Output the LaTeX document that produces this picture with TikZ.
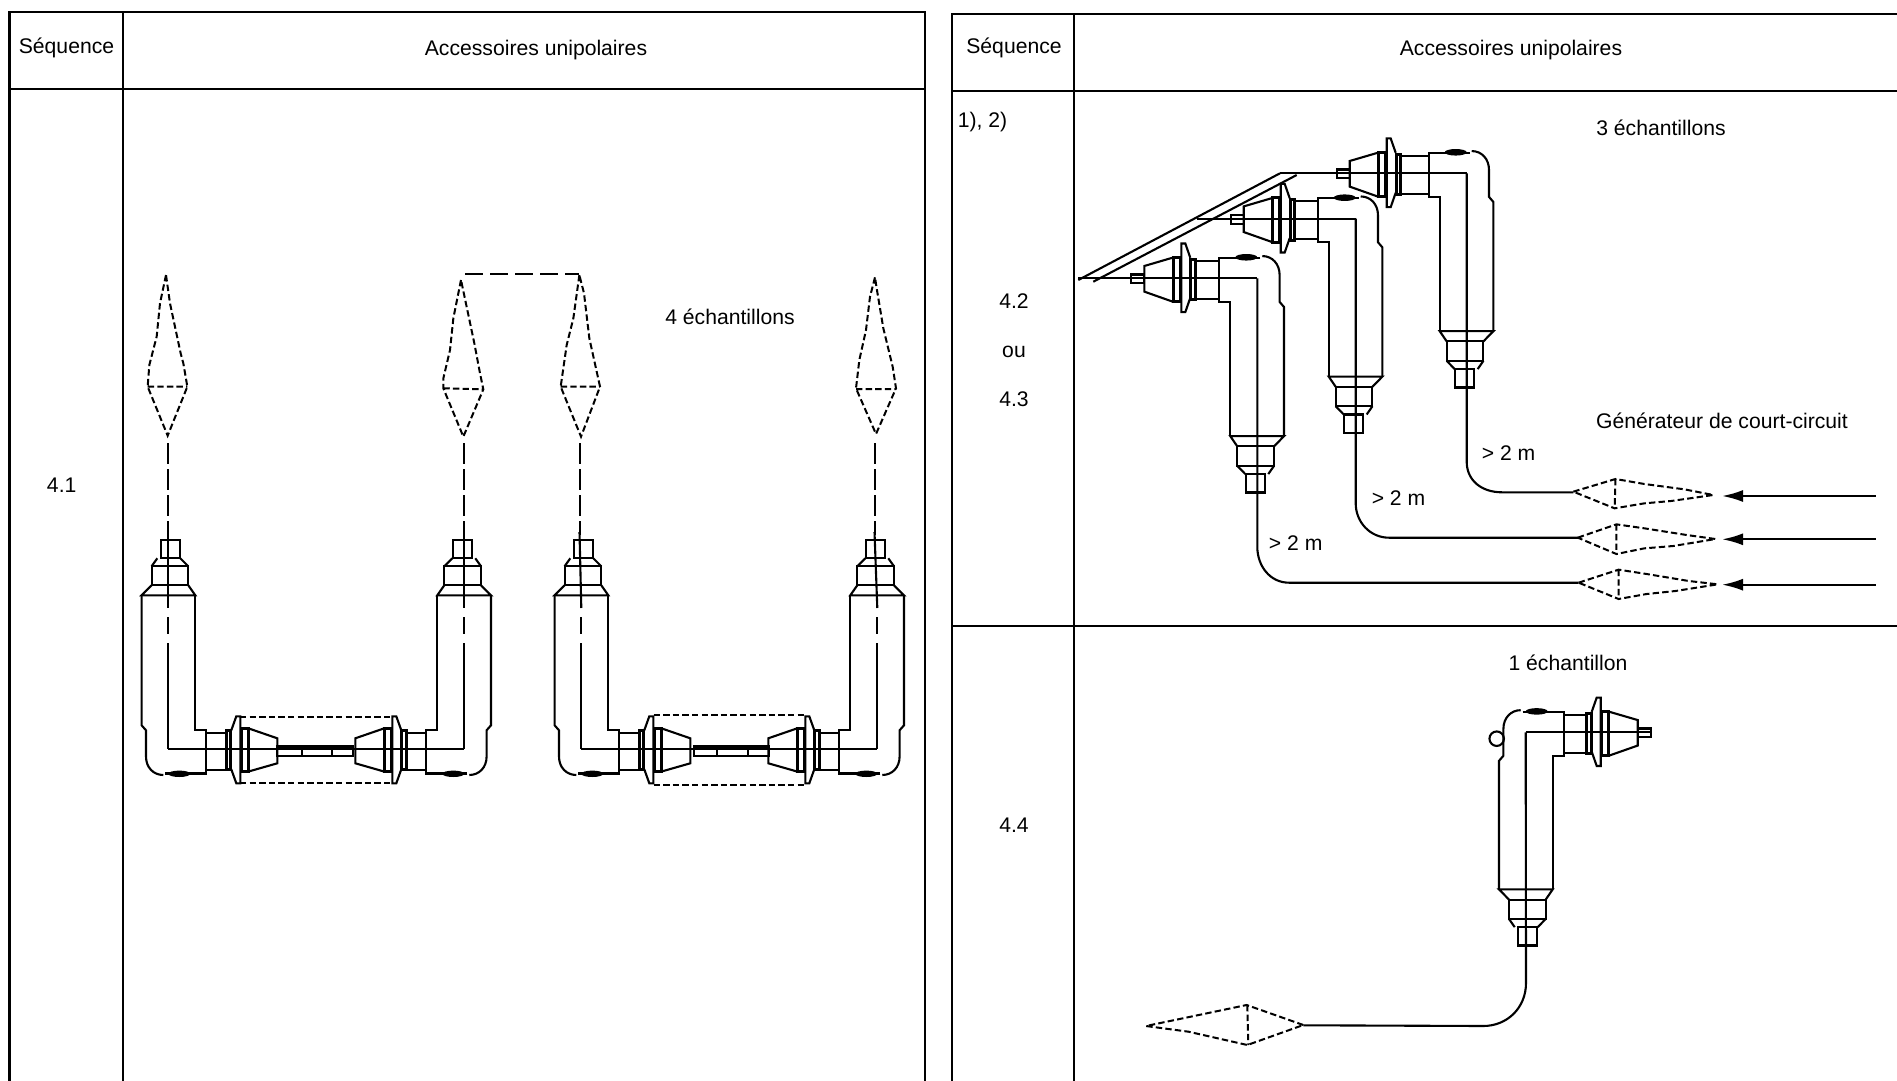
\documentclass[tikz,border=0pt]{standalone}
\usepackage{fontspec}
\setmainfont{Liberation Sans}
\usetikzlibrary{arrows.meta}
\tikzset{
  frameline/.style={line width=1.1pt,black},
  part/.style={line width=1.05pt,black,line join=miter},
  heavy/.style={line width=1.4pt,black},
  wire/.style={line width=1.05pt,black},
  shortdash/.style={line width=1pt,black,dash pattern=on 3.2pt off 1.6pt},
  longdash/.style={line width=1pt,black,dash pattern=on 10.5pt off 2.5pt},
  topdash/.style={line width=1.2pt,black,dash pattern=on 9pt off 3.5pt},
  lab/.style={inner sep=0pt,font=\fontsize{10.58pt}{12pt}\selectfont},
  feed/.style={line width=1.1pt,black,-{Latex[length=10.5pt,width=6pt]}}
}
% x, y, xscale, yscale, extension of the neck, length of the axis, stub (0/1), shift of the neck
\newcommand\elbow[8]{%
\begin{scope}[shift={(#1,#2)},xscale=#3,yscale=#4]
  \draw[part] (-7.7,-209) rectangle (11.7,-191);
  \draw[part] (-16.7,-183) -- (-11,-191) (20,-183) -- (12,-191);
  \draw[part] (-16.7,-183) rectangle (20,-164);
  \draw[part] (-16.7,-164) -- (-26.7,-154) -- (27,-154) -- (20,-164);
  \draw[part] (-26.7,-154) -- (-26.7,-24+#8) -- (-22.3,-19+#8) -- (-22.3,7.3+#8)
     .. controls (-22.3,18+#8) and (-15,25.7+#8) .. (-5,25.7+#8);
  \draw[part] (-3,24.2+#8) -- (38,24.2+#8) -- (38,-19+#8) -- (27,-19+#8) -- (27,-154);
  \fill (11,24.5+#8) ellipse (11 and 3.2);
  \draw[part] (38,-16+#8) -- (58+#5,-16+#8) (38,21+#8) -- (58+#5,21+#8);
  \draw[part] (0,0) -- (#6,0);
  \begin{scope}[shift={(#5,0)}]
    \draw[heavy] (58,-19+#8/2) rectangle (62.5,20.5+#8/2);
    \draw[part] (63,-19) -- (68,-33) -- (72,-33) -- (72,34) -- (68,34) -- (63,20);
    \draw[heavy] (73,-21+#8/2) rectangle (80,22.3+#8/2);
    \draw[part] (80,-21+#8/2) -- (109,-11+#8/2) -- (109,14+#8/2) -- (80,22.3+#8/2);
    \ifnum#7=1
      \draw[part] (109,-5) rectangle (122,3.7);
    \fi
  \end{scope}
\end{scope}}
\begin{document}
\begin{tikzpicture}[x=0.5pt,y=-0.5pt]
\useasboundingbox (0,0) rectangle (1897,1081);
% frames
\draw[frameline] (9.5,1081) -- (9.5,12.3) -- (925.3,12.3) -- (925.3,1081);
\draw[frameline] (123.3,12.3) -- (123.3,1081);
\draw[frameline] (8,89) -- (925.3,89);
\draw[frameline] (952.3,1081) -- (952.3,14.3) -- (1897,14.3);
\draw[frameline] (1074,14.3) -- (1074,1081);
\draw[frameline] (952.3,90.7) -- (1897,90.7);
\draw[frameline] (952.3,626) -- (1897,626);
% texts
\node[lab] (seqL) at (66.5,48) {Séquence};
\node[lab] (accL) at (536,50.4) {Accessoires unipolaires};
\node[lab] (ech4) at (730,317) {4 échantillons};
\node[lab] (n41) at (61.7,485) {4.1};
\node[lab] (seqR) at (1014,48) {Séquence};
\node[lab] (accR) at (1511,50.4) {Accessoires unipolaires};
\node[lab] (notes) at (982.5,122) {1), 2)};
\node[lab] (n42) at (1014,301) {4.2};
\node[lab] (ou) at (1014,352) {ou};
\node[lab] (n43) at (1014,399) {4.3};
\node[lab] (ech3) at (1661,128) {3 échantillons};
\node[lab] (gen) at (1722,421) {Générateur de court-circuit};
\node[lab] (m1) at (1508.6,453) {> 2 m};
\node[lab] (m2) at (1398.5,498.4) {> 2 m};
\node[lab] (m3) at (1295.7,543) {> 2 m};
\node[lab] (ech1) at (1568,663) {1 échantillon};
\node[lab] (n44) at (1014,825) {4.4};
% left pairs
\elbow{168.3}{749.3}{1}{1}{0}{0}{0}{0}
\elbow{464.3}{749.3}{-1}{1}{0}{0}{0}{0}
\elbow{581.3}{749.3}{1}{1}{0}{0}{0}{0}
\elbow{877.3}{749.3}{-1}{1}{0}{0}{0}{0}
\foreach \ox/\dy/\a/\b/\c/\d in {168.3/0/277.3/301.7/331.7/353.3,581.3/0/694.4/717/748/769}{
  \draw[part] (\ox,749.3) -- (\ox+296,749.3);
  \draw[part] (\a,746.5) rectangle (\d,756.3);
  \draw[part] (\b,746.5) -- (\b,756.3) (\c,746.5) -- (\c,756.3);
}
\draw[shortdash] (240,716.7) -- (390,716.7) (240,783.3) -- (390,783.3);
\draw[shortdash] (653.5,715) -- (806.8,715) (653.5,784.5) -- (806.8,784.5);
\foreach \ox/\dx in {168.3/168.3,464.3/464.3,581.3/579.5,877.3/874.5}{
  \draw[longdash] (\dx,443) -- (\dx,535);
  \draw[part] (\dx,532) -- (\ox,608);
  \draw[part] (\ox,617) -- (\ox,634);
  \draw[part] (\ox,643) -- (\ox,749.3);
}
\draw[topdash] (465,274) -- (579,274);
% vertical dashed outlines
\begin{scope}[shift={(130,260)},x=0.16667pt,y=-0.16667pt]
  \draw[shortdash] (108,45) -- (90,130) -- (80,230) -- (58,315) -- (53,380) -- (113,527) -- (172,380) -- (160,310) -- (152,280) -- (120,130) -- cycle (53,380) -- (172,380);
  \draw[shortdash] (993,60) -- (970,175) -- (960,270) -- (940,355) -- (940,385) -- (1000,530) -- (1060,388) -- (1050,340) -- (1033,250) -- cycle (940,385) -- (1060,388);
  \draw[shortdash] (1348,45) -- (1330,175) -- (1310,255) -- (1292,380) -- (1353,530) -- (1410,380) -- (1378,235) -- (1362,100) -- cycle (1292,380) -- (1410,380);
\end{scope}
\begin{scope}[shift={(830,260)},x=0.16667pt,y=-0.16667pt]
  \draw[shortdash] (135,52) -- (120,110) -- (108,210) -- (88,300) -- (78,385) -- (138,522) -- (198,385) -- (188,320) -- (160,205) -- (140,85) -- cycle (78,387) -- (198,387);
\end{scope}
% right stack
\draw[part] (1078.3,280) -- (1280,173.3);
\draw[part] (1093.3,281.7) -- (1296.7,175);
\elbow{1466.7}{173.3}{-1}{-1.025}{8}{186.7}{1}{-4}
\elbow{1355.7}{218.7}{-1}{-1.025}{3}{159}{1}{-4}
\elbow{1257.3}{278.3}{-1}{-1.025}{4}{179}{1}{-4}
\coordinate (a0) at (1466.7,173.3);
\coordinate (a1) at (1466.7,461.7);
\coordinate (a2) at (1502,492.3);
\coordinate (a3) at (1573.3,492.3);
\coordinate (b0) at (1355.7,218.7);
\coordinate (b1) at (1355.7,503.3);
\coordinate (b2) at (1389,537.7);
\coordinate (b3) at (1577.8,537.7);
\coordinate (c0) at (1257.3,278.3);
\coordinate (c1) at (1257.3,546.7);
\coordinate (c2) at (1289,582.7);
\coordinate (c3) at (1578.7,582.7);
\draw[wire] (a0) -- (a1) .. controls (1466.7,480) and (1481,492.3) .. (a2) -- (a3);
\draw[wire] (b0) -- (b1) .. controls (1355.7,522) and (1370,537.7) .. (b2) -- (b3);
\draw[wire] (c0) -- (c1) .. controls (1257.3,566) and (1270,582.7) .. (c2) -- (c3);
\begin{scope}[shift={(1200,420)},x=0.2222pt,y=-0.16667pt]
  \draw[shortdash] (840,215) -- (935,177) -- (1000,192) -- (1090,208) -- (1155,225) -- (1060,243) -- (1000,250) -- (933,265) -- cycle (935,177) -- (933,265);
  \draw[shortdash] (850,353) -- (937,313) -- (1000,325) -- (1095,345) -- (1160,357) -- (1065,378) -- (1000,385) -- (937,402) -- cycle (937,313) -- (937,402);
  \draw[shortdash] (852,488) -- (942,449) -- (1005,462) -- (1100,483) -- (1165,493) -- (1070,513) -- (1005,522) -- (942,537) -- cycle (942,449) -- (942,537);
\end{scope}
\coordinate (fa0) at (1875.6,496);
\coordinate (fa1) at (1722,496);
\coordinate (fb0) at (1875.6,539.3);
\coordinate (fb1) at (1722,539.3);
\coordinate (fc0) at (1875.6,584.7);
\coordinate (fc1) at (1722,584.7);
\draw[feed] (fa0) -- (fa1);
\draw[feed] (fb0) -- (fb1);
\draw[feed] (fc0) -- (fc1);
% single sample
\elbow{1525.7}{732.3}{1}{-1.02}{3}{125}{1}{-4}
\node[draw,circle,line width=1.05pt,minimum size=7.25pt,inner sep=0pt] (ring) at (1496.7,738.7) {};
\coordinate (d0) at (1525.7,732.3);
\coordinate (d1) at (1526,983);
\coordinate (d2) at (1483.3,1026);
\coordinate (d3) at (1303.3,1025.3);
\draw[wire] (d0) -- (d1) .. controls (1526,1008) and (1507,1026) .. (d2) -- (d3);
\begin{scope}[shift={(1120,960)},x=0.16667pt,y=-0.16667pt]
  \draw[shortdash] (550,195) -- (380,135) -- (78,198) -- (205,215) -- (382,255) -- cycle (382,135) -- (385,255);
\end{scope}
\end{tikzpicture}
\end{document}
